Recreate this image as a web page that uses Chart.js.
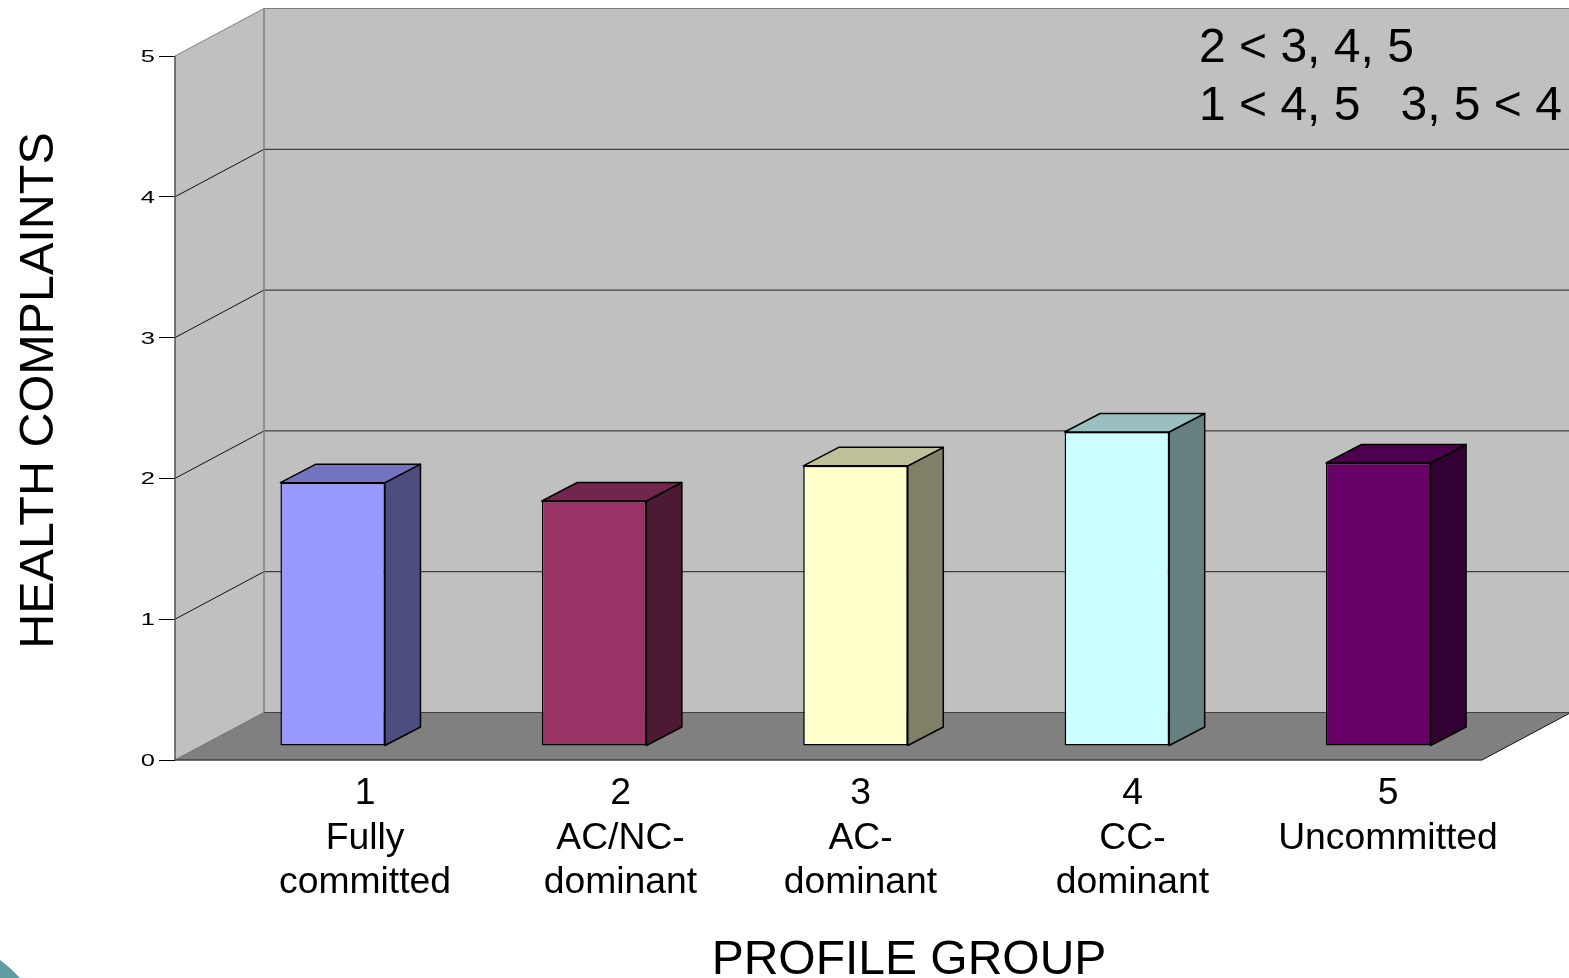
<!DOCTYPE html>
<html>
<head>
<meta charset="utf-8">
<title>Health complaints by profile group</title>
<script src="https://cdn.jsdelivr.net/npm/chart.js@4"></script>
<style>
    html, body { margin: 0; padding: 0; background: #fff; overflow: hidden; }
    canvas { display: block; }
</style>
</head>
<body>
<canvas id="profileChart" width="1569" height="978"></canvas>
<script>
// Chart values
const groupNumbers = ['1', '2', '3', '4', '5'];
const groupNames = [['Fully', 'committed'], ['AC/NC-', 'dominant'], ['AC-', 'dominant'], ['CC-', 'dominant'], ['Uncommitted']];
const complaints = [1.87, 1.74, 1.99, 2.23, 2.01];
const barColors = ['#9999FF', '#993366', '#FFFFCC', '#CCFFFF', '#660066'];
const yTicks = [0, 1, 2, 3, 4, 5];
const noteLines = ['2 < 3, 4, 5', '1 < 4, 5   3, 5 < 4'];

// Box depth of the plot and of the bars
const wallDepth = {x: 89, y: -47.5};
const barOffset = {x: 27, y: -14};
const barDepth = {x: 35.5, y: -18.5};

// Group captions are centred by hand under the bars
const captionCentres = [365, 620.5, 860.5, 1132.5, 1388];

const FONT = '"Liberation Sans", Arial, sans-serif';

function shade(hex, factor) {
    const n = parseInt(hex.slice(1), 16);
    const r = Math.round((n >> 16 & 255) * factor);
    const g = Math.round((n >> 8 & 255) * factor);
    const b = Math.round((n & 255) * factor);
    return `rgb(${r}, ${g}, ${b})`;
}

function line(ctx, x1, y1, x2, y2, color, width) {
    ctx.strokeStyle = color;
    ctx.lineWidth = width;
    ctx.beginPath();
    ctx.moveTo(x1, y1);
    ctx.lineTo(x2, y2);
    ctx.stroke();
}

function poly(ctx, points, fill, stroke, width) {
    ctx.beginPath();
    points.forEach((p, i) => i ? ctx.lineTo(p[0], p[1]) : ctx.moveTo(p[0], p[1]));
    ctx.closePath();
    if (fill) {
        ctx.fillStyle = fill;
        ctx.fill();
    }
    if (stroke) {
        ctx.strokeStyle = stroke;
        ctx.lineWidth = width;
        ctx.lineJoin = 'round';
        ctx.stroke();
    }
}

// Back wall, side wall and floor, with gridlines from the y scale
const boxPlugin = {
    id: 'box',
    beforeDatasetsDraw(chart) {
        const ctx = chart.ctx;
        const {left, right, top, bottom} = chart.chartArea;
        const dx = wallDepth.x, dy = wallDepth.y;
        ctx.save();
        poly(ctx, [[left + dx, top + dy], [right + dx, top + dy], [right + dx, bottom + dy], [left + dx, bottom + dy]], '#C0C0C0');
        poly(ctx, [[left, top], [left + dx, top + dy], [left + dx, bottom + dy], [left, bottom]], '#C0C0C0');
        poly(ctx, [[left, bottom], [left + dx, bottom + dy], [right + dx, bottom + dy], [right, bottom]], '#808080');

        yTicks.forEach(v => {
            const y = chart.scales.y.getPixelForValue(v);
            const color = v === 5 ? '#808080' : '#404040';
            line(ctx, left + dx, y + dy, right + dx, y + dy, color, 1.2);
            if (v > 0)
                line(ctx, left, y, left + dx, y + dy, v === 5 ? '#808080' : '#111', 1);
        });
        line(ctx, left, bottom, left + dx, bottom + dy, '#707070', 1);
        line(ctx, left + dx, top + dy, left + dx, bottom + dy, '#808080', 1.5);
        line(ctx, left, top, left, bottom, '#505050', 1.5);
        line(ctx, left, bottom, right, bottom, '#404040', 1.5);
        line(ctx, right, bottom, right + dx, bottom + dy, '#111', 1);
        ctx.restore();
    },
    // bars stand part way into the box
    beforeDatasetDraw(chart) {
        chart.ctx.save();
        chart.ctx.translate(barOffset.x, barOffset.y);
    },
    afterDatasetDraw(chart) {
        const ctx = chart.ctx;
        // side and top faces of each bar
        chart.getDatasetMeta(0).data.forEach((bar, i) => {
            const l = bar.x - bar.width / 2, r = bar.x + bar.width / 2;
            const dx = barDepth.x, dy = barDepth.y;
            poly(ctx, [[r, bar.y], [r + dx, bar.y + dy], [r + dx, bar.base + dy], [r, bar.base]], shade(barColors[i], 0.5), '#000', 1.5);
            poly(ctx, [[l, bar.y], [l + dx, bar.y + dy], [r + dx, bar.y + dy], [r, bar.y]], shade(barColors[i], 0.75), '#000', 1.5);
        });
        ctx.restore();
    },
    afterDraw(chart) {
        const ctx = chart.ctx;
        const scale = chart.scales.y;
        ctx.save();
        ctx.fillStyle = '#000';

        // y tick labels, stretched wide
        ctx.font = `17px ${FONT}`;
        ctx.textAlign = 'right';
        ctx.textBaseline = 'alphabetic';
        yTicks.forEach(v => {
            ctx.save();
            ctx.translate(155, scale.getPixelForValue(v) + 6);
            ctx.scale(1.5, 1);
            ctx.fillText(String(v), 0, 0);
            ctx.restore();
        });

        // group captions
        ctx.font = `37.3px ${FONT}`;
        ctx.textAlign = 'center';
        groupNumbers.forEach((num, i) => {
            [num].concat(groupNames[i]).forEach((text, row) => {
                ctx.fillText(text, captionCentres[i], 804 + row * 44.5);
            });
        });

        // axis titles
        ctx.font = `48px ${FONT}`;
        ctx.fillText('PROFILE GROUP', 909, 974);
        ctx.font = `48.5px ${FONT}`;
        ctx.save();
        ctx.translate(53, 390.5);
        ctx.rotate(-Math.PI / 2);
        ctx.fillText('HEALTH COMPLAINTS', 0, 0);
        ctx.restore();

        // pairwise comparison note
        ctx.font = `48px ${FONT}`;
        ctx.textAlign = 'left';
        noteLines.forEach((text, row) => ctx.fillText(text, 1199, 62 + row * 57.5));

        // corner of the slide decoration
        poly(ctx, [[0, 960], [10, 968], [20, 978], [0, 978]], '#5F9EA0');
        ctx.restore();
    }
};

new Chart(document.getElementById('profileChart'), {
    type: 'bar',
    data: {
        labels: groupNumbers,
        datasets: [{
            data: complaints,
            backgroundColor: barColors,
            borderColor: '#000',
            borderWidth: 1.5,
            borderSkipped: false,
            barPercentage: 0.4,
            categoryPercentage: 1,
            clip: false
        }]
    },
    options: {
        responsive: false,
        animation: false,
        layout: {padding: {top: 56, right: 87, left: 0, bottom: 0}},
        plugins: {legend: {display: false}, tooltip: {enabled: false}},
        scales: {
            x: {
                ticks: {display: false},
                grid: {display: false},
                border: {display: false},
                afterFit: s => { s.height = 218; }
            },
            y: {
                min: 0,
                max: 5,
                ticks: {display: false, stepSize: 1},
                grid: {drawOnChartArea: false, color: '#000', lineWidth: 1, tickLength: 16},
                border: {display: false},
                afterFit: s => { s.width = 175; }
            }
        }
    },
    plugins: [boxPlugin]
});
</script>
</body>
</html>
